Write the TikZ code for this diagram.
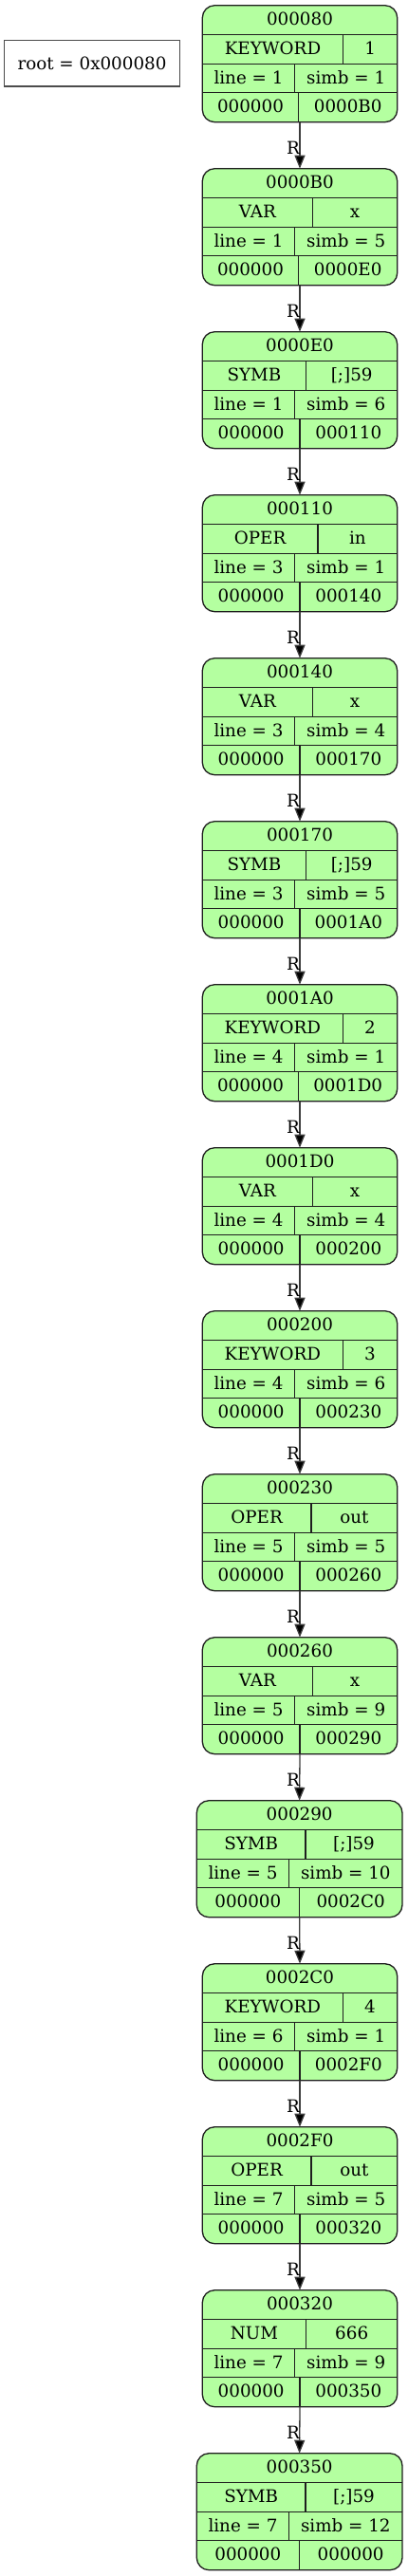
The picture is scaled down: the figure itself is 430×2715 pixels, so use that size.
\documentclass[tikz,border=0pt]{standalone}
\usepackage{fontspec}
\setmainfont{DejaVu Serif}
\usetikzlibrary{arrows.meta}
\definecolor{recfill}{RGB}{180,255,160}
\definecolor{recline}{RGB}{30,30,30}
\definecolor{edgecol}{RGB}{60,60,60}
\tikzset{
  txt/.style={font=\fontsize{18.3}{20}\selectfont, inner sep=0pt, outer sep=0pt, text=black, anchor=base},
  recbox/.style={draw=recline, fill=recfill, line width=1.3pt, rounded corners=13pt, inner sep=0pt, outer sep=0pt},
  divider/.style={draw=recline, line width=1.3pt},
  edge/.style={draw=edgecol, line width=1.3pt, -{Triangle[length=14pt,width=11pt,fill=black]}},
  rootbox/.style={draw=black!70, line width=1.3pt, inner sep=0pt, outer sep=0pt, minimum width=184.6pt, minimum height=48.3pt, font=\fontsize{18.3}{20}\selectfont},
  lbl/.style={font=\fontsize{18.3}{20}\selectfont, inner sep=0pt, outer sep=0pt, anchor=base east}
}
\begin{document}
\begin{tikzpicture}[x=1pt,y=-1pt]
\useasboundingbox (0,0) rectangle (430,2715);
\node[rootbox] (root) at (97,66.85) {root = 0x000080};
\foreach \i/\hdr/\ta/\tb/\ln/\sm/\nx/\da/\db/\dc/\xl/\xr in {
 1/000080/KEYWORD/1/1/1/0000B0/361.7/310.7/314.7/213.3/418.7,
 2/0000B0/VAR/x/1/5/0000E0/329.3/310.7/314.7/213.3/418.7,
 3/0000E0/SYMB/{[;]59}/1/6/000110/322.7/310.7/316/213.3/418.7,
 4/000110/OPER/in/3/1/000140/335/310.7/316/213.3/418.7,
 5/000140/VAR/x/3/4/000170/329.3/310.7/316/213.3/418.7,
 6/000170/SYMB/{[;]59}/3/5/0001A0/322.7/310.7/316/213.3/418.7,
 7/0001A0/KEYWORD/2/4/1/0001D0/361.3/310.7/314.7/213.3/418.7,
 8/0001D0/VAR/x/4/4/000200/329.3/310.7/316/213.3/418.7,
 9/000200/KEYWORD/3/4/6/000230/361.3/310.7/316/213.3/418.7,
 10/000230/OPER/out/5/5/000260/328/310.7/316/213.3/418.7,
 11/000260/VAR/x/5/9/000290/329.3/310.7/316/213.3/418.7,
 12/000290/SYMB/{[;]59}/5/10/0002C0/322/304.7/315.3/207.3/424,
 13/0002C0/KEYWORD/4/6/1/0002F0/361.3/310.7/316/213.3/418.7,
 14/0002F0/OPER/out/7/5/000320/328/310.7/316/213.3/418.7,
 15/000320/NUM/666/7/9/000350/322.7/310.7/316/213.3/418.7,
 16/000350/SYMB/{[;]59}/7/12/000000/322/304.7/315.3/207.3/424}{
  \pgfmathsetmacro\tp{5.7+(\i-1)*172}
  \pgfmathsetmacro\w{\xr-\xl}
  \pgfmathsetmacro\cx{(\xl+\xr)/2}
  \pgfmathsetmacro\cy{\tp+61.5}
  \node[recbox, minimum width=\w pt, minimum height=123pt] (n\i) at (\cx,\cy) {};
  \pgfmathsetmacro\ya{\tp+31}
  \pgfmathsetmacro\yb{\tp+61.5}
  \pgfmathsetmacro\yc{\tp+92}
  \pgfmathsetmacro\ye{\tp+123}
  \draw[divider] (\xl,\ya) -- (\xr,\ya);
  \draw[divider] (\xl,\yb) -- (\xr,\yb);
  \draw[divider] (\xl,\yc) -- (\xr,\yc);
  \draw[divider] (\da,\ya) -- (\da,\yb);
  \draw[divider] (\db,\yb) -- (\db,\yc);
  \draw[divider] (\dc,\yc) -- (\dc,\ye);
  \pgfmathsetmacro\ba{\tp+20.3}
  \pgfmathsetmacro\bb{\tp+51.4}
  \pgfmathsetmacro\bc{\tp+82.4}
  \pgfmathsetmacro\bd{\tp+112.8}
  \pgfmathsetmacro\xa{(\xl+\da)/2}
  \pgfmathsetmacro\xb{(\da+\xr)/2}
  \pgfmathsetmacro\xc{(\xl+\db)/2}
  \pgfmathsetmacro\xd{(\db+\xr)/2}
  \pgfmathsetmacro\xe{(\xl+\dc)/2}
  \pgfmathsetmacro\xf{(\dc+\xr)/2}
  \node[txt] (h\i) at (\cx,\ba) {\hdr};
  \node[txt] (t\i) at (\xa,\bb) {\ta};
  \node[txt] (v\i) at (\xb,\bb) {\tb};
  \node[txt] (l\i) at (\xc,\bc) {line = \ln};
  \node[txt] (s\i) at (\xd,\bc) {simb = \sm};
  \node[txt] (p\i) at (\xe,\bd) {000000};
  \node[txt] (q\i) at (\xf,\bd) {\nx};
}
\foreach \i in {1,...,15}{
  \pgfmathtruncatemacro\j{\i+1}
  \pgfmathsetmacro\rb{5.7+\i*172-15.5}
  \draw[edge] (n\i.south) -- (n\j.north);
  \node[lbl] (r\i) at (316,\rb) {R};
}
\end{tikzpicture}
\end{document}
